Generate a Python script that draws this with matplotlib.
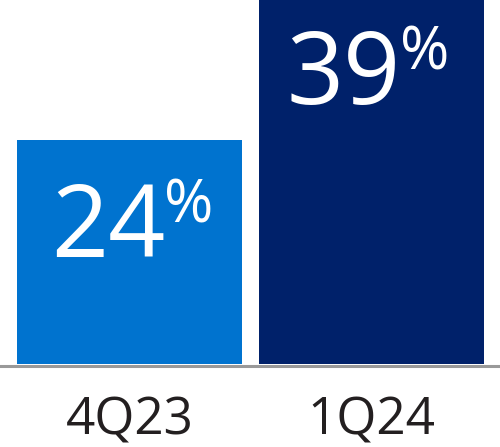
import matplotlib
matplotlib.use("Agg")
import matplotlib.pyplot as plt

# data
quarters = ["4Q23", "1Q24"]
values = [24, 39]
bar_colors = ["#0073cf", "#00216a"]

plt.rcParams['font.family'] = ['Open Sans', 'DejaVu Sans']

fig = plt.figure(figsize=(5.0, 4.47), dpi=100)
ax = fig.add_axes([0, 0, 1, 1])
ax.set_xlim(-0.535, 1.531)
ax.set_ylim(-8.89, 39.0)
ax.axis('off')

x = list(range(len(quarters)))
ax.bar(x, values, width=0.93, color=bar_colors, zorder=2)
ax.axhline(-0.18, color="#999999", lw=2.2, zorder=3)

# value label placement (in data units, relative to bar centre / top)
label_dx = [0.147, 0.122]
label_drop = [12.5, 11.1]
pct_rise = 3.64

for i, v in enumerate(values):
    xa = x[i] + label_dx[i]
    yb = v - label_drop[i]
    ax.text(xa, yb, str(v), ha='right', va='baseline', color='white',
            fontsize=72, zorder=4)
    ax.text(xa - 0.005, yb + pct_rise, "%", ha='left', va='baseline',
            color='white', fontsize=43, zorder=4)

for i, q in enumerate(quarters):
    ax.text(x[i], -7.6, q, ha='center', va='baseline', color="#231f20",
            fontsize=37)

fig.savefig("out.png", dpi=100)
